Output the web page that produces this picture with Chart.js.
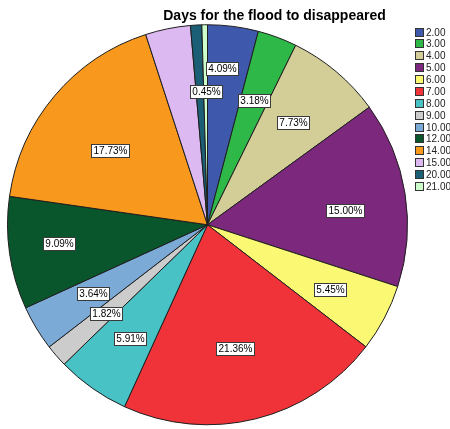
<!DOCTYPE html>
<html>
<head>
<meta charset="utf-8">
<script src="https://cdn.jsdelivr.net/npm/chart.js@4.4.1/dist/chart.umd.min.js"></script>
<style>
  html, body { margin: 0; padding: 0; background: #fff; }
  canvas { display: block; }
</style>
</head>
<body>
<canvas id="floodChart" width="450" height="429"></canvas>
<script>
// Dados (percentuais por número de dias)
const chartTitle = 'Days for the flood to disappeared';
const categorias = ['2.00', '3.00', '4.00', '5.00', '6.00', '7.00', '8.00', '9.00', '10.00', '12.00', '14.00', '15.00', '20.00', '21.00'];
const percentuais = [4.09, 3.18, 7.73, 15.00, 5.45, 21.36, 5.91, 1.82, 3.64, 9.09, 17.73, 3.64, 0.91, 0.45];
const cores = ['#3E58AC', '#2EB848', '#D3CE97', '#7C287D', '#FBF873', '#EF3338', '#48C2C5', '#CCCCCC',
               '#7AAAD5', '#0A562C', '#F8981D', '#DDB9F1', '#1A5F76', '#CCFFCC'];

// posição radial dos rótulos (fração do raio); null = sem rótulo
const raioRotulo = [0.785, 0.665, 0.665, 0.69, 0.69, 0.635, 0.69, 0.675, 0.67, 0.75, 0.615, null, null, 0.665];
const ajusteAngulo = [-1.9, 0, 0, 2.9, 0, 1.4, -1, 0, 0, 1.2, -2.8, 0, 0, 0];

const FONT = 'Arial, "Liberation Sans", sans-serif';

// Rótulos de percentual em caixinhas brancas
const rotulosPlugin = {
    id: 'rotulos',
    afterDatasetsDraw(chart) {
        const ctx = chart.ctx;
        const arcs = chart.getDatasetMeta(0).data;
        ctx.save();
        ctx.font = '10px ' + FONT;
        ctx.textAlign = 'center';
        ctx.textBaseline = 'middle';
        arcs.forEach((arc, i) => {
            const frac = raioRotulo[i];
            if (frac === null) return;
            const p = arc.getProps(['x', 'y', 'startAngle', 'endAngle', 'outerRadius'], true);
            const mid = (p.startAngle + p.endAngle) / 2 + ajusteAngulo[i] * Math.PI / 180;
            const cx = p.x + Math.cos(mid) * p.outerRadius * frac;
            const cy = p.y + Math.sin(mid) * p.outerRadius * frac;
            const txt = percentuais[i].toFixed(2) + '%';
            const w = Math.round(ctx.measureText(txt).width) + 4;
            const h = 13;
            const bx = Math.round(cx - w / 2) + 0.5;
            const by = Math.round(cy - h / 2) + 0.5;
            ctx.fillStyle = '#ffffff';
            ctx.fillRect(bx, by, w, h);
            ctx.strokeStyle = '#3a3a3a';
            ctx.lineWidth = 1;
            ctx.strokeRect(bx, by, w, h);
            ctx.fillStyle = '#000';
            ctx.fillText(txt, bx + w / 2, by + h / 2 + 0.5);
        });
        ctx.restore();
    }
};

// Título e legenda desenhados à mão (posição igual à do SPSS)
const extrasPlugin = {
    id: 'extras',
    afterDraw(chart) {
        const ctx = chart.ctx;
        ctx.save();
        ctx.fillStyle = '#000';
        ctx.font = 'bold 14px ' + FONT;
        ctx.textAlign = 'center';
        ctx.textBaseline = 'alphabetic';
        ctx.fillText(chartTitle, 274.5, 20);

        ctx.font = '10px ' + FONT;
        ctx.textAlign = 'left';
        ctx.textBaseline = 'middle';
        categorias.forEach((cat, i) => {
            const y = 27.5 + i * 11.88;
            const yy = Math.round(y) + 0.5;
            ctx.fillStyle = cores[i];
            ctx.fillRect(415.5, yy, 8, 8);
            ctx.strokeStyle = '#333';
            ctx.lineWidth = 1;
            ctx.strokeRect(415.5, yy, 8, 8);
            ctx.fillStyle = '#222';
            ctx.fillText(cat, 426, yy + 4.5);
        });
        ctx.restore();
    }
};

function initChart() {
    const ctx = document.getElementById('floodChart').getContext('2d');
    new Chart(ctx, {
        type: 'pie',
        data: {
            labels: categorias,
            datasets: [{
                data: percentuais,
                backgroundColor: cores,
                borderColor: '#1e1e1e',
                borderWidth: 1
            }]
        },
        options: {
            responsive: false,
            animation: false,
            radius: 200,
            layout: {
                padding: { left: 7.5, right: 42.5, top: 24.75, bottom: 4.25 }
            },
            plugins: {
                legend: { display: false },
                title: { display: false },
                tooltip: { enabled: false }
            }
        },
        plugins: [rotulosPlugin, extrasPlugin]
    });
}

document.addEventListener('DOMContentLoaded', initChart);
</script>
</body>
</html>
